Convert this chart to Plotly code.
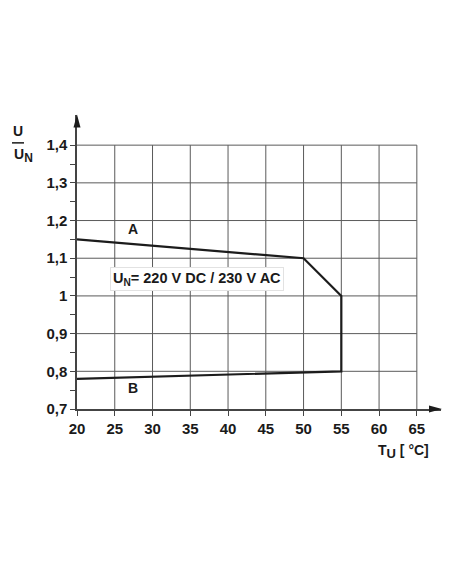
import plotly.graph_objects as go

# ---------------------------------------------------------------------------
# Data
# ---------------------------------------------------------------------------
temp_c    = [20, 50, 55, 55, 20]
u_ratio   = [1.15, 1.10, 1.00, 0.80, 0.78]

x_ticks   = [20, 25, 30, 35, 40, 45, 50, 55, 60, 65]
y_ticks   = [0.7, 0.8, 0.9, 1.0, 1.1, 1.2, 1.3, 1.4]
y_labels  = ["0,7", "0,8", "0,9", "1", "1,1", "1,2", "1,3", "1,4"]
y_minor   = [0.75, 0.85, 0.95, 1.05, 1.15, 1.25, 1.35]

# ---------------------------------------------------------------------------
# Style
# ---------------------------------------------------------------------------
_FONT      = "Arial, Liberation Sans, sans-serif"
_TEXT      = "#1a1a1a"
_GRID      = "#5a5a5a"
_AXIS      = "#444444"
_CURVE     = "#1c1c1c"

X_MAX = 68.2
Y_MAX = 1.48

# page body has an 8px margin -> figure is offset by 8px in the screenshot
OFF = 8
W, H = 444, 568
# plot area in screenshot pixels
SL, SR, ST, SB = 77, 441, 114.6, 409
L, R, T, B = SL - OFF, SR - OFF, ST - OFF, SB - OFF


def px(xs, ys):
    """screenshot pixel -> paper coordinates"""
    return (xs - SL) / (SR - SL), (SB - ys) / (SB - ST)


def sub(txt, size=12):
    return f"<sub><span style='font-size:{size}px'>{txt}</span></sub>"


def tri(pts):
    """closed svg path in paper coords from screenshot pixel points"""
    p = [px(a, b) for a, b in pts]
    return "M " + " L ".join(f"{a:.5f},{b:.5f}" for a, b in p) + " Z"


fig = go.Figure()

fig.add_trace(go.Scatter(
    x=temp_c, y=u_ratio,
    mode="lines",
    line=dict(color=_CURVE, width=2.2),
    showlegend=False,
    hoverinfo="skip",
))

# grid
for xv in x_ticks[1:]:
    fig.add_shape(type="line", x0=xv, x1=xv, y0=y_ticks[0], y1=y_ticks[-1],
                  line=dict(color=_GRID, width=1), layer="below")
for yv in y_ticks[1:]:
    fig.add_shape(type="line", x0=x_ticks[0], x1=x_ticks[-1], y0=yv, y1=yv,
                  line=dict(color=_GRID, width=1), layer="below")

# axis arrowheads
fig.add_shape(type="path", xref="paper", yref="paper",
              path=tri([(442, SB), (429, SB - 3.5), (429, SB + 3.5)]),
              fillcolor=_CURVE, line=dict(width=0))
fig.add_shape(type="path", xref="paper", yref="paper",
              path=tri([(SL, 114), (SL - 3.5, 127), (SL + 3.5, 127)]),
              fillcolor=_CURVE, line=dict(width=0))

# curve labels
fig.add_annotation(x=27.4, y=1.178, text="<b>A</b>", showarrow=False,
                   font=dict(size=14, color=_TEXT, family=_FONT))
fig.add_annotation(x=27.4, y=0.755, text="<b>B</b>", showarrow=False,
                   font=dict(size=14, color=_TEXT, family=_FONT))

# rated voltage box
fig.add_annotation(x=35.9, y=1.045,
                   text="<b>U<sub>N</sub>= 220 V DC / 230 V AC</b>",
                   showarrow=False, bgcolor="white", bordercolor="#e2e2e2",
                   borderwidth=1, borderpad=2,
                   font=dict(size=14.5, color=_TEXT, family=_FONT))

# y-axis title (fraction)
ux, uy = px(18, 141)
fig.add_annotation(x=ux, y=uy, xref="paper", yref="paper", text="<b>U</b>",
                   xanchor="center", yanchor="bottom",
                   showarrow=False, font=dict(size=14, color=_TEXT, family=_FONT))
x0, y0 = px(12, 142.5)
x1, _ = px(24, 142.5)
fig.add_shape(type="line", xref="paper", yref="paper", x0=x0, x1=x1, y0=y0, y1=y0,
              line=dict(color=_TEXT, width=1.5))
nx, ny = px(12, 144)
fig.add_annotation(x=nx, y=ny, xref="paper", yref="paper",
                   text="<b>U" + sub("N", 12) + "</b>",
                   xanchor="left", yanchor="top",
                   showarrow=False, font=dict(size=14, color=_TEXT, family=_FONT))

# x-axis title
tx, ty = px(376, 440)
fig.add_annotation(x=tx, y=ty, xref="paper", yref="paper",
                   text="<b>T" + sub("U", 13) + " [ °C]</b>",
                   xanchor="left", yanchor="top",
                   showarrow=False, font=dict(size=14, color=_TEXT, family=_FONT))

fig.update_layout(
    width=W, height=H,
    margin=dict(l=L, r=W - R, t=T, b=H - B),
    paper_bgcolor="white",
    plot_bgcolor="white",
    font=dict(family=_FONT, color=_TEXT, size=13),
    xaxis=dict(
        range=[20, X_MAX], showgrid=False, zeroline=False,
        showline=True, linecolor=_AXIS, linewidth=1.5,
        tickvals=x_ticks, ticktext=[f"<b>{v}</b>" for v in x_ticks],
        ticks="outside", ticklen=5, tickcolor=_AXIS, tickwidth=1,
        tickfont=dict(size=15, color=_TEXT, family=_FONT),
    ),
    yaxis=dict(
        range=[0.7, Y_MAX], showgrid=False, zeroline=False,
        showline=True, linecolor=_AXIS, linewidth=1.5,
        tickvals=y_ticks, ticktext=[f"<b>{t}</b>" for t in y_labels],
        ticks="outside", ticklen=5, tickcolor=_AXIS, tickwidth=1,
        tickfont=dict(size=15, color=_TEXT, family=_FONT),
        minor=dict(tickvals=y_minor, ticks="outside", ticklen=5,
                   tickcolor=_AXIS, tickwidth=1, showgrid=False),
    ),
    showlegend=False,
)

fig.write_html("out.html")
